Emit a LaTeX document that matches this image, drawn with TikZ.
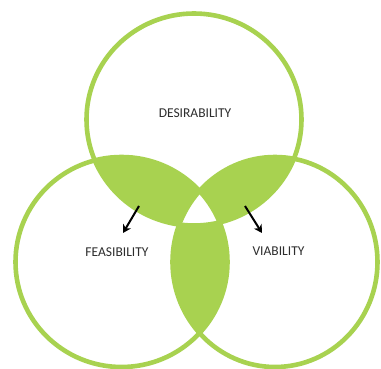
\documentclass[tikz,border=0pt]{standalone}
\usepackage{fontspec}
\setmainfont{Carlito}
\usetikzlibrary{arrows.meta}
\definecolor{vgreen}{RGB}{168,210,80}
\definecolor{vtext}{RGB}{45,45,45}
\tikzset{
  ring/.style={draw=vgreen, line width=4.6pt},
  lensfill/.style={fill=vgreen},
  label/.style={font=\fontsize{13.5}{15}\selectfont, text=vtext, inner sep=0pt},
  pointer/.style={draw=black, line width=2pt, -{Stealth[length=8pt,width=9pt,inset=2.5pt]}}
}
\newcommand{\topC}{(194,119.5) ellipse [x radius=107.5pt, y radius=106pt]}
\newcommand{\leftC}{(121.5,262) ellipse [x radius=106pt, y radius=105pt]}
\newcommand{\rightC}{(275,262) ellipse [x radius=102.5pt, y radius=105pt]}
\begin{document}
\begin{tikzpicture}[x=1pt, y=-1pt]
  \useasboundingbox (0,0) rectangle (381,369);
  \fill[white] (0,0) rectangle (381,369);
  % pairwise intersections
  \begin{scope}\clip \topC; \fill[lensfill] \leftC; \end{scope}
  \begin{scope}\clip \topC; \fill[lensfill] \rightC; \end{scope}
  \begin{scope}\clip \leftC; \fill[lensfill] \rightC; \end{scope}
  % triple intersection stays white
  \begin{scope}\clip \topC; \clip \leftC; \fill[white] \rightC; \end{scope}
  % rings
  \draw[ring] \topC;
  \draw[ring] \leftC;
  \draw[ring] \rightC;
  % labels
  \node[label] (des) at (195,113) {DESIRABILITY};
  \node[label] (fea) at (117,252) {FEASIBILITY};
  \node[label] (via) at (278.5,251) {VIABILITY};
  % arrows
  \coordinate (la) at (139,206);
  \coordinate (lb) at (123,233);
  \coordinate (ra) at (245,206);
  \coordinate (rb) at (262,233);
  \draw[pointer] (la) -- (lb);
  \draw[pointer] (ra) -- (rb);
\end{tikzpicture}
\end{document}
